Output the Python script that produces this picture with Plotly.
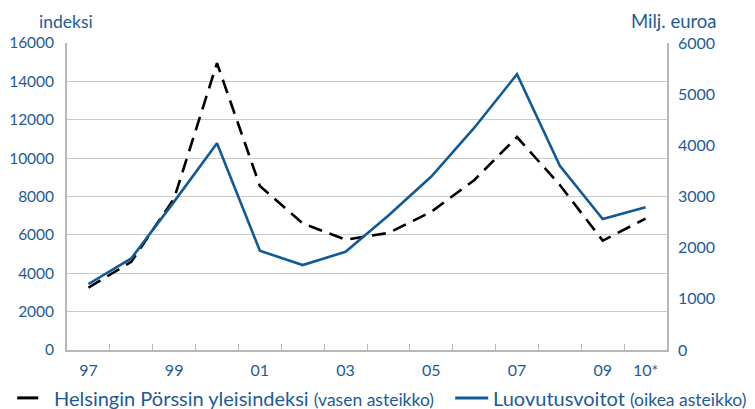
import plotly.graph_objects as go

years = ["97", "98", "99", "00", "01", "02", "03", "04", "05", "06", "07", "08", "09", "10*"]
tick_labels = ["97", "", "99", "", "01", "", "03", "", "05", "", "07", "", "09", "10*"]
index_values = [3250, 4600, 7900, 14950, 8550, 6600, 5750, 6100, 7200, 8850, 11100, 8600, 5700, 6850]
gains_values = [1290, 1790, 2900, 4040, 1940, 1660, 1920, 2630, 3390, 4340, 5390, 3600, 2560, 2790]

BLUE = "#125a96"
TEXT = "#1d5b98"
GRID = "#cacaca"
FRAME = "#b8b8b8"
FONT = "Lato"

fig = go.Figure()
fig.add_trace(go.Scatter(x=years, y=index_values, mode="lines",
                         line=dict(color="black", width=2.6, dash="14px,8px"),
                         showlegend=False, yaxis="y"))
fig.add_trace(go.Scatter(x=years, y=gains_values, mode="lines",
                         line=dict(color=BLUE, width=2.6),
                         showlegend=False, yaxis="y2"))

# page body has an 8px margin, so the figure is drawn 8px smaller and offset
fig.update_layout(
    width=747, height=401,
    margin=dict(l=59, r=88, t=35, b=59, autoexpand=False),
    paper_bgcolor="white", plot_bgcolor="white",
    font=dict(family=FONT, size=16, color=TEXT),
    xaxis=dict(type="category", tickvals=years, ticktext=tick_labels, range=[-0.5, 13.5],
               tickson="boundaries", ticks="inside", ticklen=6, tickcolor=FRAME, tickwidth=1.3,
               showline=True, linecolor=FRAME, linewidth=1.6, showgrid=False,
               ticklabelstandoff=5, tickfont=dict(size=16, color=TEXT), automargin=False),
    yaxis=dict(range=[0, 16000], dtick=2000, tickformat="d", showgrid=True, gridcolor=GRID, gridwidth=1.3,
               zeroline=False, showline=True, linecolor=FRAME, linewidth=1.6,
               ticks="", ticklabelstandoff=8, tickfont=dict(size=15.5, color=TEXT), automargin=False),
    yaxis2=dict(range=[0, 6000], dtick=1000, tickformat="d", overlaying="y", side="right", showgrid=False,
                zeroline=False, showline=True, linecolor=FRAME, linewidth=1.6,
                ticks="", ticklabelstandoff=6, tickfont=dict(size=16, color=TEXT), automargin=False),
    showlegend=False,
)

fig.add_annotation(text="indeksi", xref="paper", yref="paper", x=-0.05, y=1.069,
                   xanchor="left", yanchor="middle", showarrow=False,
                   font=dict(size=17.5, color=TEXT, family=FONT))
fig.add_annotation(text="Milj. euroa", xref="paper", yref="paper", x=1.085, y=1.072,
                   xanchor="right", yanchor="middle", showarrow=False, borderpad=0,
                   font=dict(size=18.5, color=TEXT, family=FONT))

# legend
fig.add_shape(type="line", xref="paper", yref="paper", x0=-0.083, x1=-0.048, y0=-0.156, y1=-0.156,
              line=dict(color="black", width=3))
fig.add_annotation(text="Helsingin Pörssin yleisindeksi <span style='font-size:17.5px'>(vasen asteikko)</span>",
                   xref="paper", yref="paper", x=-0.025, y=-0.156, xanchor="left", yanchor="middle",
                   showarrow=False, font=dict(size=20, color=TEXT, family=FONT))
fig.add_shape(type="line", xref="paper", yref="paper", x0=0.647, x1=0.702, y0=-0.156, y1=-0.156,
              line=dict(color=BLUE, width=3))
fig.add_annotation(text="Luovutusvoitot <span style='font-size:17.5px'>(oikea asteikko)</span>",
                   xref="paper", yref="paper", x=0.706, y=-0.156, xanchor="left", yanchor="middle",
                   showarrow=False, font=dict(size=20, color=TEXT, family=FONT))

fig.write_html("out.html")
